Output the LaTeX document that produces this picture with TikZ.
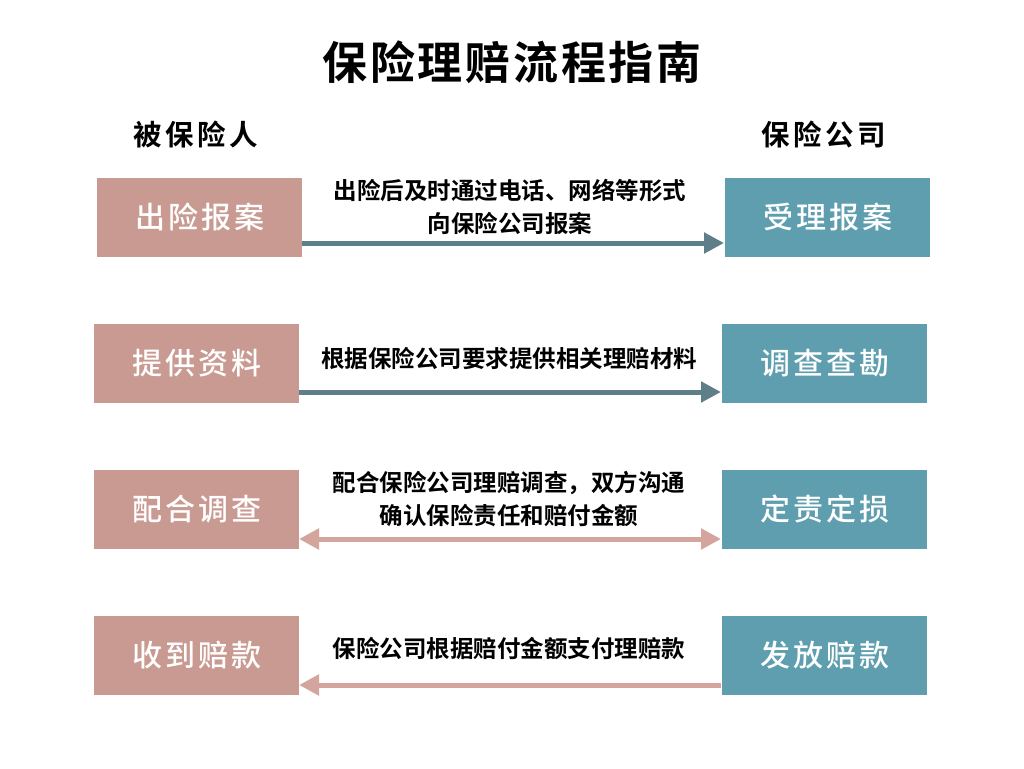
\documentclass[tikz,border=0pt]{standalone}
\usepackage{fontspec}
\setmainfont{Noto Sans CJK SC}
\newfontfamily\cjkb[LetterSpace=12]{Noto Sans CJK SC Bold}
\newfontfamily\cjkw[LetterSpace=10]{Noto Sans CJK SC Medium}
\newfontfamily\cjkt[LetterSpace=6]{Noto Sans CJK SC Bold}
\newfontfamily\cjkm{Noto Sans CJK SC Bold}
\usetikzlibrary{arrows.meta}
\definecolor{pinkbox}{HTML}{C99A91}
\definecolor{tealbox}{HTML}{5E9EAE}
\definecolor{slatearr}{HTML}{5F7F88}
\definecolor{pinkarr}{HTML}{D3A59C}
\tikzset{
  px/.style={x=1pt,y=-1pt},
  lbox/.style={fill=pinkbox,minimum width=205pt,minimum height=79pt,inner sep=0pt,text=white,font=\cjkw\fontsize{30}{32}\selectfont},
  rbox/.style={lbox,fill=tealbox},
  lbl/.style={font=\cjkm\fontsize{23.5}{33}\selectfont,align=center,text=black},
  hdr/.style={font=\cjkb\fontsize{28.5}{30}\selectfont,text=black},
  arr/.style={line width=5pt,-{Triangle[length=20pt,width=20pt]}},
}
\begin{document}
\begin{tikzpicture}[px]
\useasboundingbox (0,0) rectangle (1024,768);
\fill[white] (0,0) rectangle (1024,768);
\node[font=\cjkt\fontsize{45}{48}\selectfont] (title) at (512,62) {保险理赔流程指南};
\node[hdr] (h1) at (196,135) {被保险人};
\node[hdr] (h2) at (824,135) {保险公司};
% row 1
\node[lbox] (l1) at (199.5,217.5) {出险报案};
\node[rbox] (r1) at (827.5,217.5) {受理报案};
\coordinate (a1s) at (302,243);
\coordinate (a1e) at (724,243);
\draw[arr,slatearr] (a1s) -- (a1e);
\node[lbl] (t1) at (510,207) {出险后及时通过电话、网络等形式\\向保险公司报案};
% row 2
\node[lbox] (l2) at (196.5,363.5) {提供资料};
\node[rbox] (r2) at (824.5,363.5) {调查查勘};
\coordinate (a2s) at (299,392);
\coordinate (a2e) at (721,392);
\draw[arr,slatearr] (a2s) -- (a2e);
\node[lbl] (t2) at (509,358) {根据保险公司要求提供相关理赔材料};
% row 3
\node[lbox] (l3) at (196.5,509.5) {配合调查};
\node[rbox] (r3) at (824.5,509.5) {定责定损};
\coordinate (a3s) at (299,539);
\coordinate (a3e) at (721,539);
\draw[line width=5pt,pinkarr,{Triangle[length=20pt,width=20pt]}-{Triangle[length=20pt,width=20pt]}] (a3s) -- (a3e);
\node[lbl] (t3) at (509,499) {配合保险公司理赔调查，双方沟通\\确认保险责任和赔付金额};
% row 4
\node[lbox] (l4) at (196.5,655.5) {收到赔款};
\node[rbox] (r4) at (824.5,655.5) {发放赔款};
\coordinate (a4s) at (721,685);
\coordinate (a4e) at (299,685);
\draw[arr,pinkarr] (a4s) -- (a4e);
\node[lbl] (t4) at (509,648) {保险公司根据赔付金额支付理赔款};
\end{tikzpicture}
\end{document}
